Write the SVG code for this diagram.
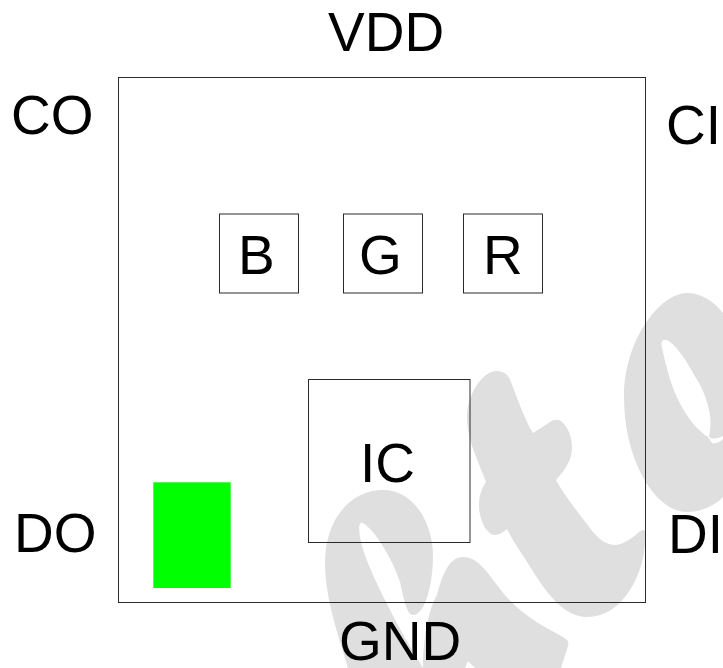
<svg xmlns="http://www.w3.org/2000/svg" width="723" height="668" viewBox="0 0 723 668">
<style>
.wm{fill:#dfdfdf;fill-rule:evenodd}
.box{fill:none;stroke:#2a2a2a;stroke-width:1}
.lbl{font-family:"Liberation Sans",Arial,sans-serif;font-size:55px;fill:#000}
</style>
<rect width="723" height="668" fill="#fff"/>
<g id="watermark">
<path class="wm" d="M348 668C340 640 325 600 325 563C325 520 350 490 383 490C415 490 433 525 433 555C433 585 425 615 413 615C407 615 404 600 400 582C393 560 375 530 363 523C358 521 359 530 360 537C363 555 375 580 385 600C397 625 412 650 423 668C423 640 428 610 437 595C443 572 450 557 463 557C478 557 487 572 497 585C515 610 535 622 563 637C568 640 569 642 568 646L561 668L475 668L468 661L465 668Z"/>
<path class="wm" d="M497 371C505 371 509 376 511 382C518 400 524 418 533 433L550 422C556 418 561 420 564 424C570 431 572 440 572 448C572 460 565 470 556 480C566 498 580 515 593 532C600 540 607 545 615 545C625 545 635 535 642 530C645 529 646 532 645 540C645 570 625 617 587 617C565 617 548 595 534 573C525 558 515 545 507 529C503 532 499 535 495 535C487 535 479 520 479 505C479 495 482 488 486 482C480 465 467 440 467 418C467 395 482 371 497 371Z"/>
<path class="wm" d="M687 293C660 293 624 340 624 397C624 460 655 512 687 512C700 512 715 506 723 497L723 313C713 300 700 293 687 293ZM667 340C661 339 661 343 662 348C667 370 672 390 682 407C690 422 700 432 708 437L712 443C716 444 720 442 723 439L723 436C719 438 714 440 709 437C711 425 711 420 709 410C706 395 700 384 693 373C685 358 675 344 667 340Z"/>
</g>
<g id="chip"><rect class="box" x="118.5" y="77.5" width="527" height="525"/></g>
<g id="led-b"><rect class="box" x="219.5" y="214" width="79" height="79"/><text class="lbl" x="238" y="274">B</text></g>
<g id="led-g"><rect class="box" x="343.5" y="214" width="79" height="79"/><text class="lbl" x="359" y="274">G</text></g>
<g id="led-r"><rect class="box" x="463.5" y="214" width="79" height="79"/><text class="lbl" x="483" y="274">R</text></g>
<g id="ic"><rect class="box" x="308.5" y="379.5" width="161.5" height="163"/><text class="lbl" x="360" y="482">IC</text></g>
<g id="marker"><rect x="153.3" y="482.3" width="77.4" height="105.7" fill="#0f0"/></g>
<g id="pin-vdd"><text class="lbl" x="328" y="51">VDD</text></g>
<g id="pin-co"><text class="lbl" x="11" y="134">CO</text></g>
<g id="pin-ci"><text class="lbl" x="666" y="144">CI</text></g>
<g id="pin-do"><text class="lbl" x="14" y="552">DO</text></g>
<g id="pin-di"><text class="lbl" x="668" y="553">DI</text></g>
<g id="pin-gnd"><text class="lbl" x="339" y="660">GND</text></g>
<g id="connectors"></g>
</svg>
